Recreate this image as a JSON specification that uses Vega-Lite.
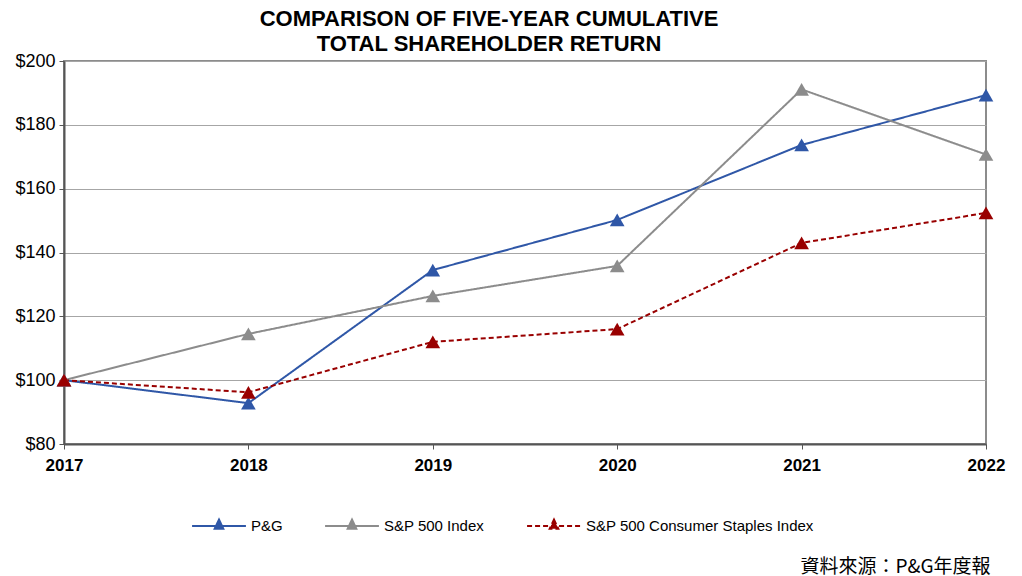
{
  "$schema": "https://vega.github.io/schema/vega-lite/v6.json",
  "autosize": "none",
  "width": 922,
  "height": 383,
  "padding": {"left": 64, "top": 61, "right": 36, "bottom": 132},
  "background": "white",
  "title": {
    "text": ["COMPARISON OF FIVE-YEAR CUMULATIVE", "TOTAL SHAREHOLDER RETURN"],
    "font": "Liberation Sans",
    "fontSize": 22,
    "fontWeight": "bold",
    "color": "black",
    "lineHeight": 25,
    "anchor": "middle",
    "dx": -36,
    "offset": -4
  },
  "data": {
    "values": [
      {"year": "2017", "series": "P&G", "value": 100},
      {"year": "2018", "series": "P&G", "value": 92.8},
      {"year": "2019", "series": "P&G", "value": 134.5},
      {"year": "2020", "series": "P&G", "value": 150.2},
      {"year": "2021", "series": "P&G", "value": 173.7},
      {"year": "2022", "series": "P&G", "value": 189.3},
      {"year": "2017", "series": "S&P 500 Index", "value": 100},
      {"year": "2018", "series": "S&P 500 Index", "value": 114.5},
      {"year": "2019", "series": "S&P 500 Index", "value": 126.4},
      {"year": "2020", "series": "S&P 500 Index", "value": 135.8},
      {"year": "2021", "series": "S&P 500 Index", "value": 191.1},
      {"year": "2022", "series": "S&P 500 Index", "value": 170.7},
      {"year": "2017", "series": "S&P 500 Consumer Staples Index", "value": 100},
      {"year": "2018", "series": "S&P 500 Consumer Staples Index", "value": 96.2},
      {"year": "2019", "series": "S&P 500 Consumer Staples Index", "value": 112},
      {"year": "2020", "series": "S&P 500 Consumer Staples Index", "value": 116},
      {"year": "2021", "series": "S&P 500 Consumer Staples Index", "value": 143},
      {"year": "2022", "series": "S&P 500 Consumer Staples Index", "value": 152.4}
    ]
  },
  "encoding": {
    "x": {
      "field": "year",
      "type": "ordinal",
      "scale": {"type": "point", "padding": 0},
      "axis": {
        "labelAngle": 0,
        "labelFontSize": 17,
        "labelFontWeight": "bold",
        "labelPadding": 8,
        "tickSize": 5,
        "tickColor": "#555555",
        "domainColor": "#555555",
        "domainWidth": 2,
        "grid": false,
        "title": "資料來源：P&G年度報",
        "titleFont": "Noto Sans CJK TC",
        "titleFontSize": 19,
        "titleFontWeight": "normal",
        "titleColor": "black",
        "titleX": 926,
        "titleY": 122,
        "titleAlign": "right",
        "titleBaseline": "middle",
        "titleAnchor": null
      }
    },
    "y": {
      "field": "value",
      "type": "quantitative",
      "scale": {"domain": [80, 200], "nice": false},
      "axis": {
        "values": [80, 100, 120, 140, 160, 180, 200],
        "format": "$.0f",
        "labelFontSize": 18,
        "labelPadding": 4,
        "tickSize": 5,
        "tickColor": "#555555",
        "domainColor": "#555555",
        "domainWidth": 2,
        "gridColor": "#A6A6A6",
        "gridWidth": 1,
        "title": null
      }
    },
    "color": {
      "field": "series",
      "type": "nominal",
      "scale": {
        "domain": ["P&G", "S&P 500 Index", "S&P 500 Consumer Staples Index"],
        "range": ["#2F57A7", "#8C8C8C", "#990000"]
      },
      "legend": {
        "title": null,
        "orient": "none",
        "direction": "horizontal",
        "legendX": 127,
        "legendY": 437,
        "symbolType": "M-1,0H1M0,-0.24L0.16,0.1L-0.16,0.1Z",
        "symbolSize": 2900,
        "symbolStrokeWidth": 2,
        "labelFontSize": 15,
        "labelOffset": 4,
        "labelLimit": 400,
        "columnPadding": 38,
        "labelColor": "black",
        "encode": {
          "symbols": {
            "update": {
              "fill": {"scale": "color", "field": "value"},
              "stroke": {"scale": "color", "field": "value"}
            }
          }
        }
      }
    }
  },
  "layer": [
    {
      "mark": {"type": "line", "strokeWidth": 2},
      "encoding": {
        "strokeDash": {
          "field": "series",
          "type": "nominal",
          "scale": {
            "domain": ["P&G", "S&P 500 Index", "S&P 500 Consumer Staples Index"],
            "range": [[1, 0], [1, 0], [5, 3]]
          },
          "legend": null
        }
      }
    },
    {
      "mark": {"type": "point", "shape": "triangle-up", "filled": true, "opacity": 1, "size": 215}
    }
  ],
  "config": {
    "font": "Liberation Sans",
    "view": {"stroke": "#8C8C8C", "strokeWidth": 2},
    "axis": {"labelColor": "black", "labelFont": "Liberation Sans"},
    "legend": {"labelFont": "Liberation Sans"}
  }
}
